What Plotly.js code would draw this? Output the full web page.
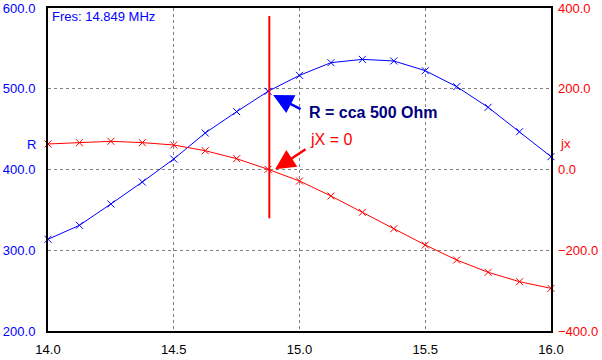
<!DOCTYPE html>
<html>
<head>
<meta charset="utf-8">
<script src="https://cdn.plot.ly/plotly-3.0.1.min.js"></script>
<style>html,body{margin:0;padding:0;background:#fff;}#chart{width:602px;height:360px;}</style>
</head>
<body>
<div id="chart"></div>
<script>
// Frequency (MHz)
var freq = [14.0, 14.125, 14.25, 14.375, 14.5, 14.625, 14.75, 14.875, 15.0,
            15.125, 15.25, 15.375, 15.5, 15.625, 15.75, 15.875, 16.0];
// Resistance R (Ohm) - left axis
var rVals = [313.6, 330.9, 357.3, 384.5, 413.0, 445.2, 471.6, 496.8, 516.6,
             532.3, 536.4, 534.4, 522.4, 502.6, 477.0, 446.8, 415.9];
// Reactance jX (Ohm) - right axis
var jxVals = [63.2, 66.4, 69.8, 66.6, 60.7, 46.6, 26.8, 0.4, -28.5,
              -65.6, -106.0, -146.6, -187.0, -224.2, -254.6, -277.9, -294.3];
// Resonance marker line
var fresLineX = 14.88;
var fresLineY2 = [380, -121];
var fresText = "Fres: 14.849 MHz";

var tickFont = {family: "Arial, 'Liberation Sans', sans-serif", size: 13};

var traces = [
  {x: freq, y: jxVals, yaxis: 'y2', type: 'scatter', mode: 'lines+markers',
   line: {color: '#ff0000', width: 1},
   marker: {symbol: 'x-thin-open', size: 7, color: '#ff0000', line: {color: '#ff0000', width: 1}},
   cliponaxis: false, hoverinfo: 'skip'},
  {x: freq, y: rVals, yaxis: 'y', type: 'scatter', mode: 'lines+markers',
   line: {color: '#0000ff', width: 1},
   marker: {symbol: 'x-thin-open', size: 7, color: '#0000ff', line: {color: '#0000ff', width: 1}},
   cliponaxis: false, hoverinfo: 'skip'},
  {x: [fresLineX, fresLineX], y: fresLineY2, yaxis: 'y2', type: 'scatter', mode: 'lines',
   line: {color: '#ff0000', width: 2}, hoverinfo: 'skip'}
];

var layout = {
  width: 602, height: 360,
  margin: {l: 48, r: 51, t: 8, b: 29, pad: 0},
  paper_bgcolor: '#ffffff', plot_bgcolor: '#ffffff',
  showlegend: false,
  font: {family: "Arial, 'Liberation Sans', sans-serif", size: 13},
  xaxis: {
    range: [14, 16], dtick: 0.5, tick0: 14, tickformat: '.1f',
    showgrid: true, gridcolor: '#808080', gridwidth: 1, griddash: '3px,3px',
    showline: true, linecolor: '#000000', linewidth: 2, mirror: true,
    zeroline: false, ticks: '', ticklabelstandoff: 5,
    tickfont: Object.assign({color: '#000000'}, tickFont)
  },
  yaxis: {
    range: [200, 600], dtick: 100, tick0: 200, tickformat: '.1f',
    showgrid: true, gridcolor: '#808080', gridwidth: 1, griddash: '3px,3px',
    showline: true, linecolor: '#000000', linewidth: 2, mirror: true,
    zeroline: false, ticks: '', ticklabelstandoff: 8,
    tickfont: Object.assign({color: '#0000ff'}, tickFont)
  },
  yaxis2: {
    range: [-400, 400], dtick: 200, tick0: -400, tickformat: '.1f',
    overlaying: 'y', side: 'right', showgrid: false, zeroline: false,
    showline: false, ticks: '', ticklabelstandoff: 6,
    tickfont: Object.assign({color: '#ff0000'}, tickFont)
  },
  annotations: [
    {xref: 'paper', yref: 'paper', x: 0.004, y: 0.975, xanchor: 'left', yanchor: 'middle',
     text: fresText, showarrow: false, font: {color: '#0000ff', size: 13}},
    {xref: 'paper', yref: 'paper', x: -0.02, y: 0.576, xanchor: 'right', yanchor: 'middle',
     text: 'R', showarrow: false, font: {color: '#0000ff', size: 13}},
    {xref: 'paper', yref: 'paper', x: 1.013, y: 0.58, xanchor: 'left', yanchor: 'middle',
     text: 'jx', showarrow: false, font: {color: '#ff0000', size: 13}},
    // arrows
    {xref: 'x', yref: 'y', x: 14.895, y: 492.3, ax: 29, ay: 15, text: '',
     showarrow: true, arrowhead: 2, arrowsize: 1.6, arrowwidth: 2.5, arrowcolor: '#0000ff'},
    {xref: 'x', yref: 'y2', x: 14.903, y: 0.5, ax: 32, ay: -21, text: '',
     showarrow: true, arrowhead: 2, arrowsize: 1.6, arrowwidth: 2.5, arrowcolor: '#ff0000'},
    // texts
    {xref: 'x', yref: 'y', x: 15.03, y: 471.2, xanchor: 'left', yanchor: 'middle',
     text: '<b>R = cca 500 Ohm</b>', showarrow: false, font: {color: '#000080', size: 16}},
    {xref: 'x', yref: 'y2', x: 15.034, y: 75.5, xanchor: 'left', yanchor: 'middle',
     text: 'jX = 0', showarrow: false, font: {color: '#ff0000', size: 16}}
  ]
};

Plotly.newPlot('chart', traces, layout, {staticPlot: true, displayModeBar: false});
</script>
</body>
</html>
